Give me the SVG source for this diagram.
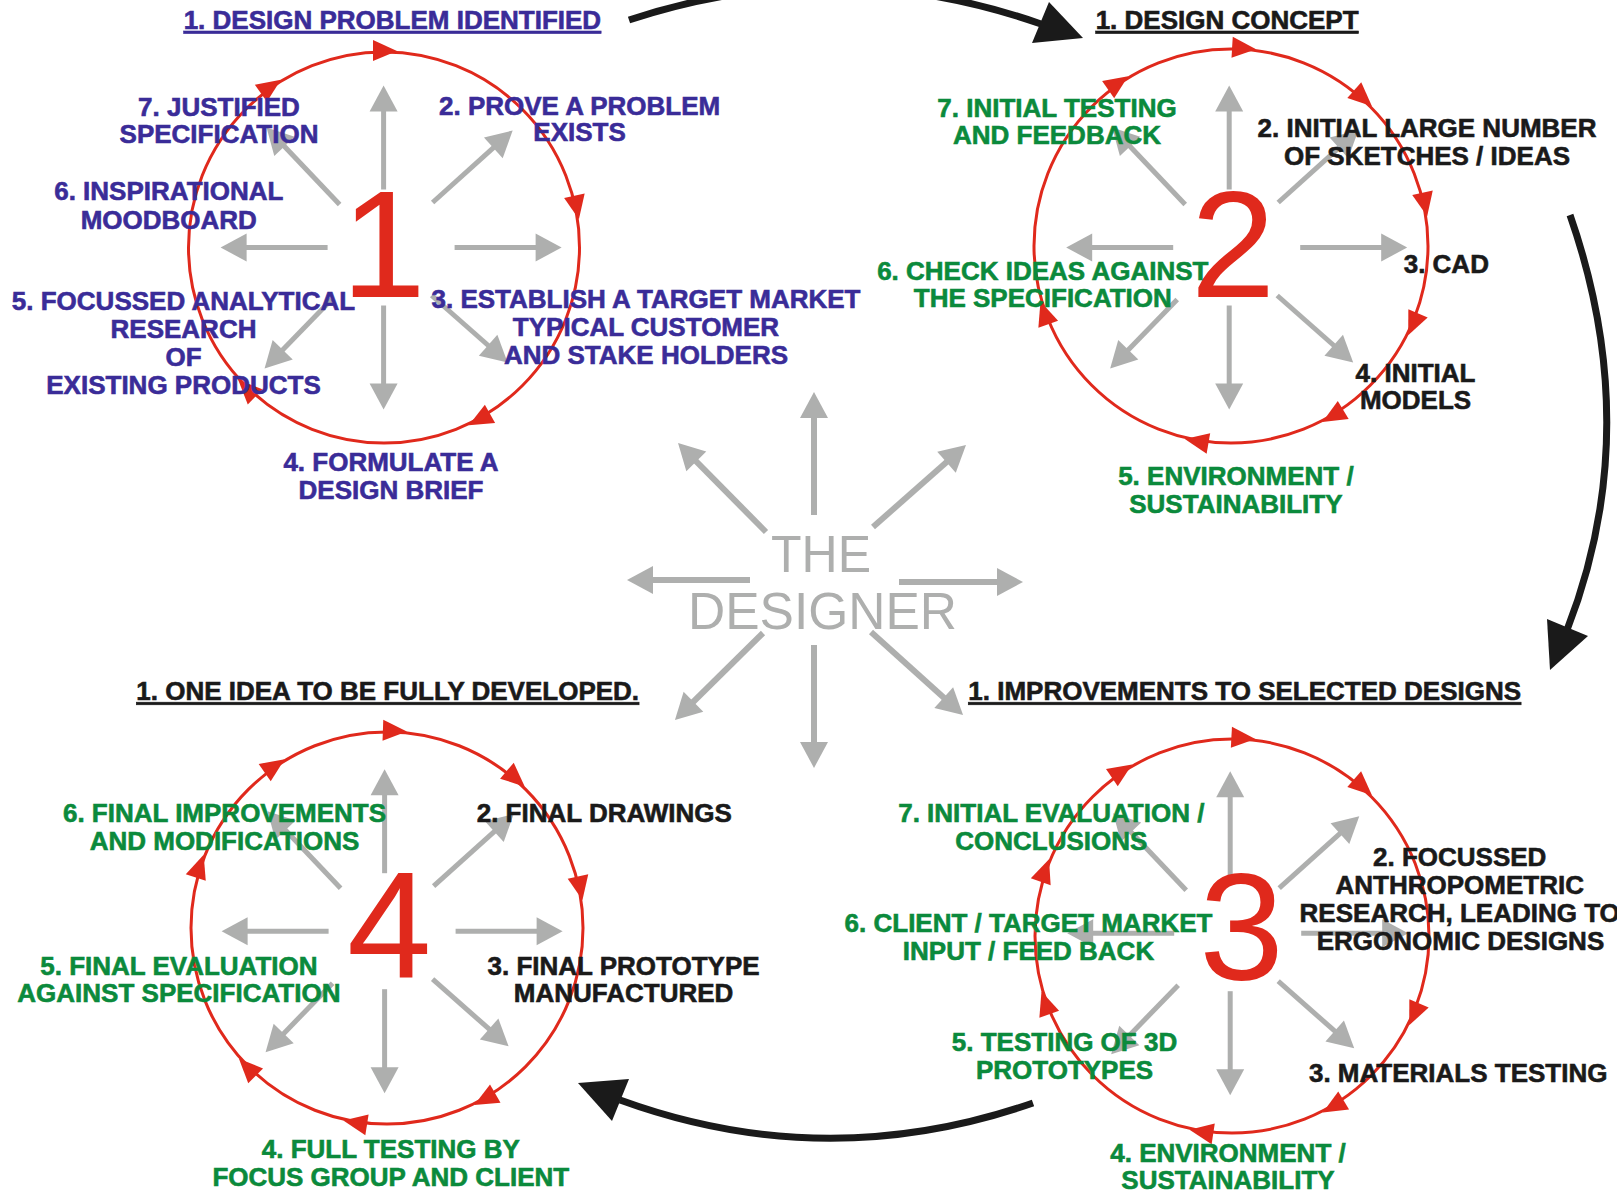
<svg xmlns="http://www.w3.org/2000/svg" xmlns:xlink="http://www.w3.org/1999/xlink" width="1617" height="1192" viewBox="0 0 1617 1192">
<style>
.t{font-family:"Liberation Sans",Arial,sans-serif;font-weight:bold;font-size:26px;text-anchor:middle;stroke-width:0.6}
.bl{fill:#3a2c98;stroke:#3a2c98}.gr{fill:#0b8a3c;stroke:#0b8a3c}.bk{fill:#1a1a1a;stroke:#1a1a1a}
.ul{text-decoration:underline}
.ring{fill:none;stroke:#e0291c;stroke-width:3}
.rh{fill:#e0291c}
.dig{font-family:"Liberation Sans",Arial,sans-serif;font-size:152px;fill:#e0291c;text-anchor:middle}
.ga{stroke:#aeafae;stroke-width:5;fill:none;marker-end:url(#gah)}
.gac{stroke:#aeafae;stroke-width:6;fill:none;marker-end:url(#gah)}
.des{font-family:"Liberation Sans",Arial,sans-serif;font-size:52px;fill:#aeafae;text-anchor:middle}
.conn{fill:none;stroke:#1a1a1a;stroke-width:7}
.chead{fill:#1a1a1a}
</style>
<defs>
<marker id="gah" markerUnits="userSpaceOnUse" markerWidth="40" markerHeight="40" viewBox="-10 -20 40 40" refX="0" refY="0" orient="auto" overflow="visible">
<path d="M-4,-14 L22,0 L-4,14 z" fill="#aeafae"/>
</marker>
<path id="rhd" d="M-11,-12 L13,-1 L-11,9 z"/>
<g id="spokes">
<line class="ga" x1="0" y1="-58" x2="0" y2="-140"/>
<line class="ga" x1="0" y1="58" x2="0" y2="140"/>
<line class="ga" x1="-56" y1="0" x2="-141" y2="0"/>
<line class="ga" x1="71" y1="0" x2="156" y2="0"/>
<line class="ga" x1="-44" y1="-43" x2="-101.9" y2="-104"/>
<line class="ga" x1="49" y1="-45" x2="112.7" y2="-102.3"/>
<line class="ga" x1="-52" y1="52" x2="-103.7" y2="105.2"/>
<line class="ga" x1="48" y1="48" x2="107.5" y2="100.5"/>
</g>
</defs>
<rect width="1617" height="1192" fill="#ffffff"/>

<g id="connectors">
<path class="conn" d="M629,20 Q835,-48 1041,24"/>
<polygon class="chead" points="1049,2 1032,43 1083,38"/>
<path class="conn" d="M1570,215 Q1645,430 1567,630"/>
<polygon class="chead" points="1547,619 1588,636 1550,670"/>
<path class="conn" d="M1033,1103 Q826,1175 620,1100"/>
<polygon class="chead" points="578,1083 629,1079 612,1121"/>
</g>

<g id="designer">
<line class="gac" x1="814" y1="515" x2="814" y2="414"/>
<line class="gac" x1="814" y1="645" x2="814" y2="746"/>
<line class="gac" x1="750" y1="580" x2="649" y2="580"/>
<line class="gac" x1="899" y1="582" x2="1001" y2="582"/>
<line class="gac" x1="766" y1="532" x2="693.5" y2="458.6"/>
<line class="gac" x1="873" y1="527" x2="949.5" y2="459.5"/>
<line class="gac" x1="763" y1="633" x2="690.6" y2="704.5"/>
<line class="gac" x1="871" y1="632" x2="946.7" y2="700.3"/>
<text class="des" x="821" y="572" textLength="100" lengthAdjust="spacingAndGlyphs">THE</text>
<text class="des" x="822.5" y="629" textLength="269" lengthAdjust="spacingAndGlyphs">DESIGNER</text>
</g>

<g id="stage1">
<circle class="ring" cx="384" cy="247.5" r="195.5"/>
<g transform="translate(384,247.5)">
<use xlink:href="#rhd" class="rh" transform="rotate(234.6) translate(195.5,0) rotate(90)"/>
<use xlink:href="#rhd" class="rh" transform="rotate(-90) translate(195.5,0) rotate(90)"/>
<use xlink:href="#rhd" class="rh" transform="rotate(-12) translate(195.5,0) rotate(90)"/>
<use xlink:href="#rhd" class="rh" transform="rotate(60.7) translate(195.5,0) rotate(90)"/>
<use xlink:href="#rhd" class="rh" transform="rotate(134) translate(195.5,0) rotate(90)"/>
</g>
<use xlink:href="#spokes" transform="translate(383.6,247.5)"/>
<text class="dig" x="383.6" y="297">1</text>
<text class="t bl ul" x="392.4" y="29">1. DESIGN PROBLEM IDENTIFIED</text>
<text class="t bl" x="219" y="115.5">7. JUSTIFIED</text>
<text class="t bl" x="219" y="143.3">SPECIFICATION</text>
<text class="t bl" x="579.6" y="114.5">2. PROVE A PROBLEM</text>
<text class="t bl" x="579.6" y="141.3">EXISTS</text>
<text class="t bl" x="168.8" y="200">6. INSPIRATIONAL</text>
<text class="t bl" x="168.8" y="228.9">MOODBOARD</text>
<text class="t bl" x="183.5" y="310.4">5. FOCUSSED ANALYTICAL</text>
<text class="t bl" x="183.5" y="338.2">RESEARCH</text>
<text class="t bl" x="183.5" y="366">OF</text>
<text class="t bl" x="183.5" y="393.9">EXISTING PRODUCTS</text>
<text class="t bl" x="646" y="308.3">3. ESTABLISH A TARGET MARKET</text>
<text class="t bl" x="646" y="336.2">TYPICAL CUSTOMER</text>
<text class="t bl" x="646" y="364">AND STAKE HOLDERS</text>
<text class="t bl" x="391" y="471.3">4. FORMULATE A</text>
<text class="t bl" x="391" y="499.1">DESIGN BRIEF</text>
</g>

<g id="stage2">
<circle class="ring" cx="1231" cy="246" r="197"/>
<g transform="translate(1231,246)">
<use xlink:href="#rhd" class="rh" transform="rotate(235) translate(197,0) rotate(90)"/>
<use xlink:href="#rhd" class="rh" transform="rotate(-86.5) translate(197,0) rotate(90)"/>
<use xlink:href="#rhd" class="rh" transform="rotate(-48.5) translate(197,0) rotate(90)"/>
<use xlink:href="#rhd" class="rh" transform="rotate(-12.4) translate(197,0) rotate(90)"/>
<use xlink:href="#rhd" class="rh" transform="rotate(23) translate(197,0) rotate(90)"/>
<use xlink:href="#rhd" class="rh" transform="rotate(58.8) translate(197,0) rotate(90)"/>
<use xlink:href="#rhd" class="rh" transform="rotate(99.7) translate(197,0) rotate(90)"/>
<use xlink:href="#rhd" class="rh" transform="rotate(160) translate(197,0) rotate(90)"/>
</g>
<use xlink:href="#spokes" transform="translate(1229.2,247.5)"/>
<text class="dig" x="1233" y="297">2</text>
<text class="t bk ul" x="1227.1" y="29">1. DESIGN CONCEPT</text>
<text class="t gr" x="1057" y="116.5">7. INITIAL TESTING</text>
<text class="t gr" x="1057" y="144.4">AND FEEDBACK</text>
<text class="t bk" x="1427" y="137.2">2. INITIAL LARGE NUMBER</text>
<text class="t bk" x="1427" y="165">OF SKETCHES / IDEAS</text>
<text class="t gr" x="1042.8" y="279.5">6. CHECK IDEAS AGAINST</text>
<text class="t gr" x="1042.8" y="307.3">THE SPECIFICATION</text>
<text class="t bk" x="1446.3" y="273.3">3. CAD</text>
<text class="t bk" x="1415.5" y="381.5">4. INITIAL</text>
<text class="t bk" x="1415.5" y="409.4">MODELS</text>
<text class="t gr" x="1235.9" y="484.7">5. ENVIRONMENT /</text>
<text class="t gr" x="1235.9" y="512.5">SUSTAINABILITY</text>
</g>

<g id="stage3">
<circle class="ring" cx="1232" cy="936" r="197"/>
<g transform="translate(1232,936)">
<use xlink:href="#rhd" class="rh" transform="rotate(236) translate(197,0) rotate(90)"/>
<use xlink:href="#rhd" class="rh" transform="rotate(-87) translate(197,0) rotate(90)"/>
<use xlink:href="#rhd" class="rh" transform="rotate(-48.9) translate(197,0) rotate(90)"/>
<use xlink:href="#rhd" class="rh" transform="rotate(23) translate(197,0) rotate(90)"/>
<use xlink:href="#rhd" class="rh" transform="rotate(59) translate(197,0) rotate(90)"/>
<use xlink:href="#rhd" class="rh" transform="rotate(98.6) translate(197,0) rotate(90)"/>
<use xlink:href="#rhd" class="rh" transform="rotate(160) translate(197,0) rotate(90)"/>
<use xlink:href="#rhd" class="rh" transform="rotate(199) translate(197,0) rotate(90)"/>
</g>
<use xlink:href="#spokes" transform="translate(1230.2,933.2)"/>
<text class="dig" x="1241.5" y="980">3</text>
<text class="t bk ul" x="1244.7" y="700.2">1. IMPROVEMENTS TO SELECTED DESIGNS</text>
<text class="t gr" x="1051.3" y="821.9">7. INITIAL EVALUATION /</text>
<text class="t gr" x="1051.3" y="849.7">CONCLUSIONS</text>
<text class="t bk" x="1459.7" y="866.2">2. FOCUSSED</text>
<text class="t bk" x="1459.7" y="894">ANTHROPOMETRIC</text>
<text class="t bk" x="1459.7" y="921.9">RESEARCH, LEADING TO</text>
<text class="t bk" x="1460.5" y="949.8">ERGONOMIC DESIGNS</text>
<text class="t gr" x="1028.5" y="932.2">6. CLIENT / TARGET MARKET</text>
<text class="t gr" x="1028.5" y="960">INPUT / FEED BACK</text>
<text class="t gr" x="1064.5" y="1050.8">5. TESTING OF 3D</text>
<text class="t gr" x="1064.5" y="1078.6">PROTOTYPES</text>
<text class="t bk" x="1458.2" y="1081.7">3. MATERIALS TESTING</text>
<text class="t gr" x="1228" y="1162">4. ENVIRONMENT /</text>
<text class="t gr" x="1228" y="1189">SUSTAINABILITY</text>
</g>

<g id="stage4">
<circle class="ring" cx="387" cy="928" r="196"/>
<g transform="translate(387,928)">
<use xlink:href="#rhd" class="rh" transform="rotate(235) translate(196,0) rotate(90)"/>
<use xlink:href="#rhd" class="rh" transform="rotate(-88) translate(196,0) rotate(90)"/>
<use xlink:href="#rhd" class="rh" transform="rotate(-49.5) translate(196,0) rotate(90)"/>
<use xlink:href="#rhd" class="rh" transform="rotate(-11.9) translate(196,0) rotate(90)"/>
<use xlink:href="#rhd" class="rh" transform="rotate(60) translate(196,0) rotate(90)"/>
<use xlink:href="#rhd" class="rh" transform="rotate(99) translate(196,0) rotate(90)"/>
<use xlink:href="#rhd" class="rh" transform="rotate(134.8) translate(196,0) rotate(90)"/>
<use xlink:href="#rhd" class="rh" transform="rotate(198) translate(196,0) rotate(90)"/>
</g>
<use xlink:href="#spokes" transform="translate(384.6,931.2)"/>
<text class="dig" x="389.3" y="977.6">4</text>
<text class="t bk ul" x="387.7" y="700.2">1. ONE IDEA TO BE FULLY DEVELOPED.</text>
<text class="t gr" x="224.5" y="821.9">6. FINAL IMPROVEMENTS</text>
<text class="t gr" x="224.5" y="849.7">AND MODIFICATIONS</text>
<text class="t bk" x="604.3" y="821.9">2. FINAL DRAWINGS</text>
<text class="t gr" x="178.9" y="974.5">5. FINAL EVALUATION</text>
<text class="t gr" x="178.9" y="1002.3">AGAINST SPECIFICATION</text>
<text class="t bk" x="623.6" y="974.5">3. FINAL PROTOTYPE</text>
<text class="t bk" x="623.6" y="1002.3">MANUFACTURED</text>
<text class="t gr" x="390.8" y="1158">4. FULL TESTING BY</text>
<text class="t gr" x="390.8" y="1185.9">FOCUS GROUP AND CLIENT</text>
</g>
</svg>
